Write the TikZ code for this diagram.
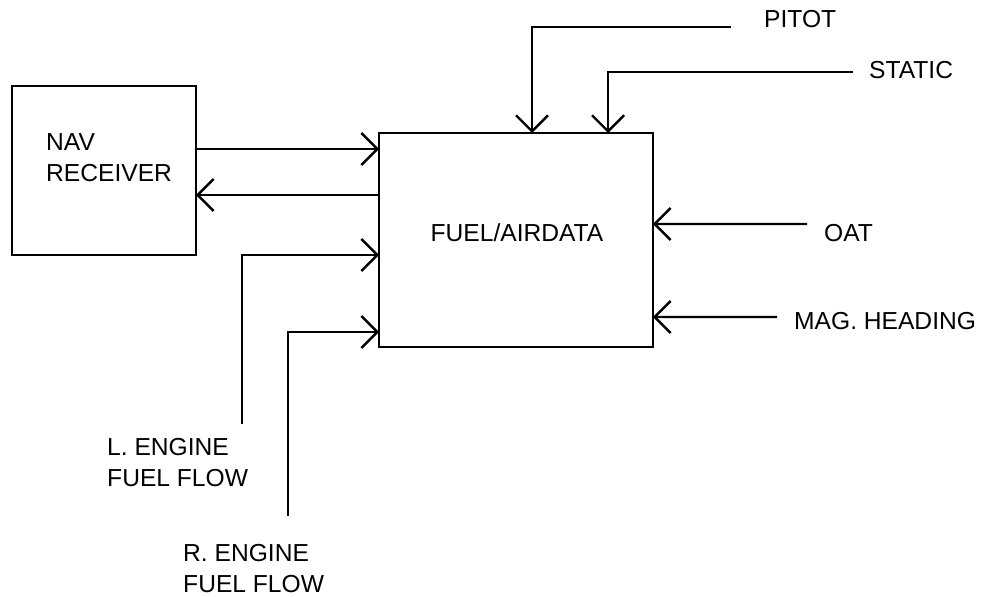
\documentclass[tikz,border=0pt]{standalone}
\usepackage{fontspec}
\setmainfont{Liberation Sans}
\usetikzlibrary{arrows.meta}

\begin{document}
\begin{tikzpicture}[x=0.02cm,y=-0.02cm,line width=1.4pt,
  blockbox/.style={draw,rectangle,inner sep=0pt,outer sep=0pt,line width=1.4pt},
  sig/.style={-{Straight Barb[length=3.2mm,width=6.4mm]}},
  lbl/.style={inner sep=0pt,font=\fontsize{14}{17.6}\selectfont,align=left}]

\useasboundingbox (0,0) rectangle (981,597);

% Blocks
\node[blockbox,minimum width=3.68cm,minimum height=3.38cm] (nav) at (104,170.5) {};
\node[blockbox,minimum width=5.48cm,minimum height=4.28cm] (main) at (516,240) {};
\node[lbl,anchor=north west] (navtxt) at (45,132) {NAV\\RECEIVER};
\node[lbl] (maintxt) at (517,232.5) {FUEL/AIRDATA};

% Labels
\node[lbl,anchor=west] (pitot) at (763,19) {PITOT};
\node[lbl,anchor=west] (static) at (868,70) {STATIC};
\node[lbl,anchor=west] (oat) at (823,233) {OAT};
\node[lbl,anchor=west] (mag) at (793,321.5) {MAG. HEADING};
\node[lbl,anchor=north west] (leng) at (106,437) {L. ENGINE\\FUEL FLOW};
\node[lbl,anchor=north west] (reng) at (182,543) {R. ENGINE\\FUEL FLOW};

% Free ends of the input lines
\coordinate (pitotend) at (731,27);
\coordinate (staticend) at (853,72);
\coordinate (oatend) at (807,224);
\coordinate (magend) at (777,317);
\coordinate (lengend) at (242,424);
\coordinate (rengend) at (288,516);

% Ports on the main block
\path (main.north west) ++(153,0) coordinate (pitotin);
\path (main.north west) ++(229,0) coordinate (staticin);
\path (main.north west) ++(0,16) coordinate (navin);
\path (main.north west) ++(0,62) coordinate (navout);
\path (main.north west) ++(0,122) coordinate (lengin);
\path (main.north west) ++(0,199) coordinate (rengin);
\path (main.north east) ++(0,91) coordinate (oatin);
\path (main.north east) ++(0,184) coordinate (magin);

% Connectors
\draw[sig] (nav.east |- navin) -- (navin);
\draw[sig] (navout) -- (nav.east |- navout);
\draw[sig] (lengend) |- (lengin);
\draw[sig] (rengend) |- (rengin);
\draw[sig] (pitotend) -| (pitotin);
\draw[sig] (staticend) -| (staticin);
\draw[sig] (oatend) -- (oatin);
\draw[sig] (magend) -- (magin);

\end{tikzpicture}
\end{document}
